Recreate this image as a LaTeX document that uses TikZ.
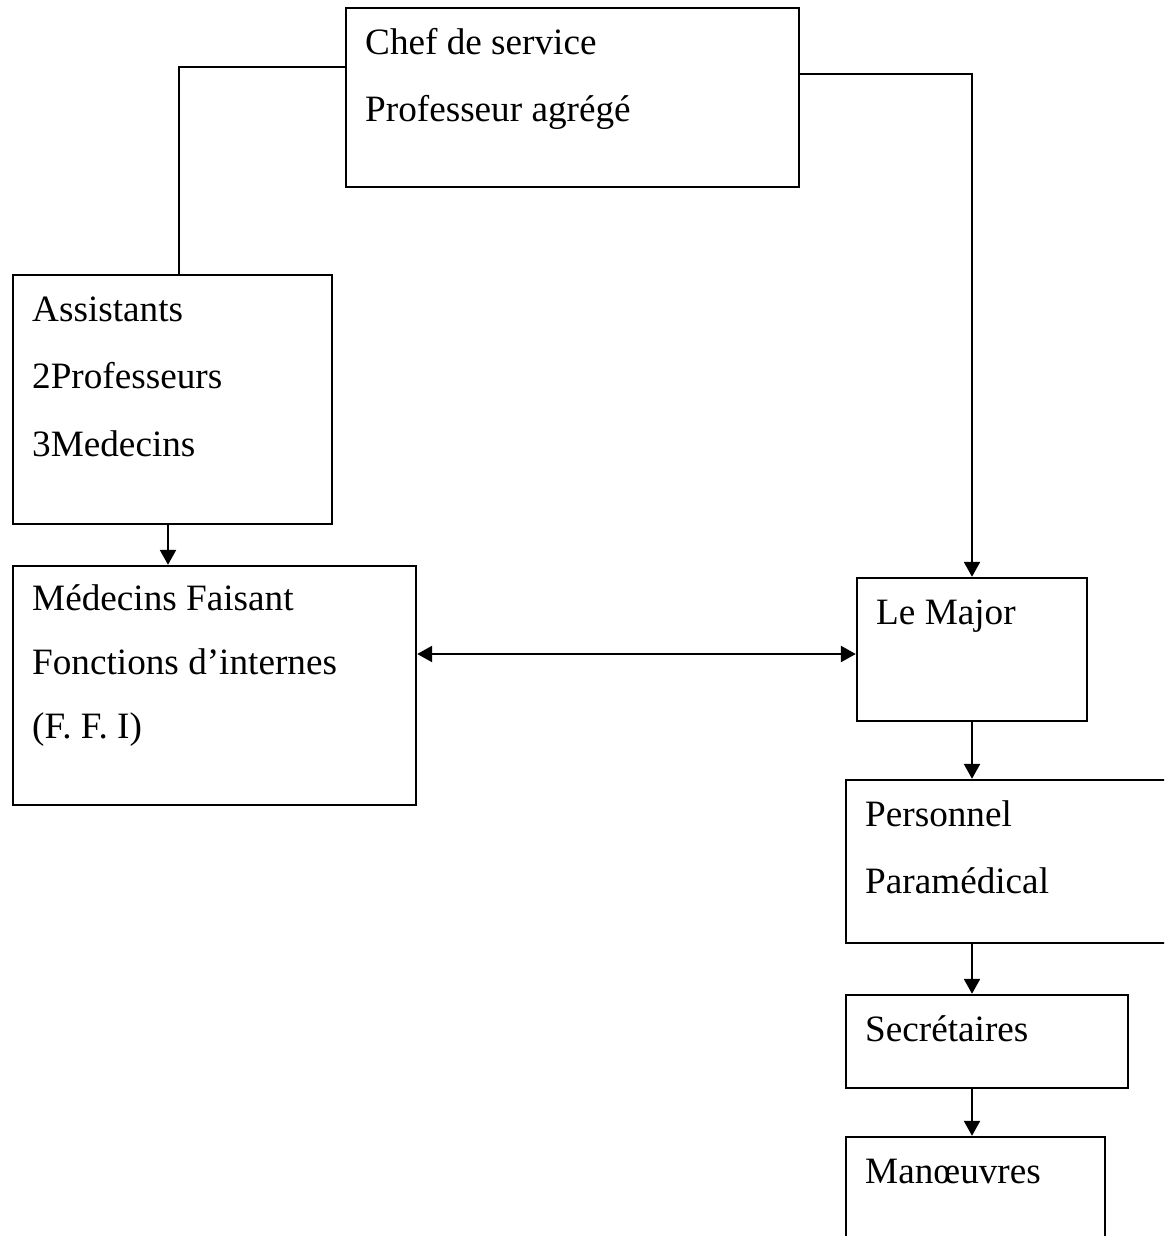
\documentclass[tikz,border=0pt]{standalone}
\usepackage{fontspec}
\setmainfont{Liberation Serif}
\usetikzlibrary{arrows.meta,fit}

\begin{document}
\begin{tikzpicture}[x=0.5pt, y=-0.5pt,
  orgbox/.style={draw, line width=1.2pt, inner sep=0pt},
  orgtxt/.style={anchor=north west, align=left, inner sep=0pt,
    font=\fontsize{18.6}{33.75}\selectfont},
  lien/.style={line width=1.2pt},
  fleche/.style={line width=1.2pt, -{Triangle[length=7.5pt,width=8pt]}},
  double/.style={line width=1.2pt, {Triangle[length=7.5pt,width=8pt]}-{Triangle[length=7.5pt,width=8pt]}}]
  \useasboundingbox (0,0) rectangle (1164,1236);
  \clip (0,0) rectangle (1164,1236);
  % boites
  \node[orgbox, fit={(346,8) (799,187)}]      (chef)   {};
  \node[orgbox, fit={(13,275) (332,524)}]     (assist) {};
  \node[orgbox, fit={(13,566) (416,805)}]     (ffi)    {};
  \node[orgbox, fit={(857,578) (1087,721)}]   (major)  {};
  \node[orgbox, fit={(846,780) (1180,943)}]   (perso)  {};
  \node[orgbox, fit={(846,995) (1128,1088)}]  (secr)   {};
  \node[orgbox, fit={(846,1137) (1105,1260)}] (manoe)  {};
  % textes
  \node[orgtxt] (chefT)   at ([xshift=10pt]chef.north west)   {\strut Chef de service\\Professeur agrégé};
  \node[orgtxt] (assistT) at ([xshift=10pt]assist.north west) {\strut Assistants\\2Professeurs\\3Medecins};
  \node[orgtxt, font=\fontsize{18.6}{32}\selectfont]
                (ffiT)    at ([xshift=10pt]ffi.north west)    {\strut Médecins Faisant\\Fonctions d’internes\\(F. F. I)};
  \node[orgtxt] (majorT)  at ([xshift=10pt]major.north west)  {\strut Le Major};
  \node[orgtxt] (persoT)  at ([xshift=10pt]perso.north west)  {\strut Personnel\\Paramédical};
  \node[orgtxt] (secrT)   at ([xshift=10pt]secr.north west)   {\strut Secrétaires};
  \node[orgtxt] (manoeT)  at ([xshift=10pt]manoe.north west)  {\strut Manœuvres};
  % liens
  \coordinate (cL) at (179,67);
  \coordinate (cR) at (972,74);
  \coordinate (cA) at (168,545);
  \coordinate (cM) at (640,654);
  \draw[lien] (chef.west |- cL) -- (cL) -- (cL |- assist.north);
  \draw[fleche] (chef.east |- cR) -- (cR) -- (major.north);
  \draw[fleche] (assist.south -| cA) -- (ffi.north -| cA);
  \draw[double] (ffi.east |- cM) -- (major.west |- cM);
  \draw[fleche] (major.south) -- (major.south |- perso.north);
  \draw[fleche] (perso.south -| major.south) -- (secr.north -| major.south);
  \draw[fleche] (secr.south -| major.south) -- (manoe.north -| major.south);
\end{tikzpicture}
\end{document}
